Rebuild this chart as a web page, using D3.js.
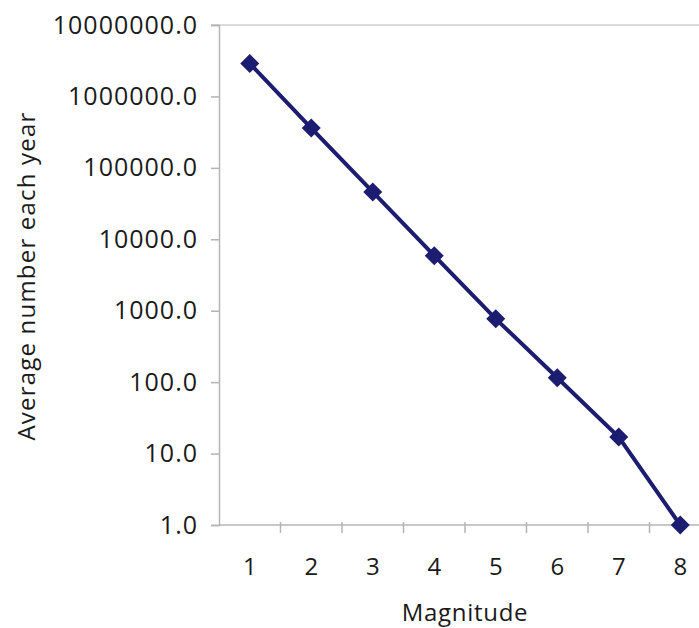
<!DOCTYPE html>
<html>
<head>
<meta charset="utf-8">
<script src="https://cdn.jsdelivr.net/npm/d3@7"></script>
<style>
  body { margin: 0; background: #fff; }
  svg text { font-family: "Open Sans", "Noto Sans", sans-serif; fill: #1a1a1a; }
</style>
</head>
<body>
<svg id="chart"></svg>
<script>
// magnitude classes and average yearly counts
const magnitudes = [1, 2, 3, 4, 5, 6, 7, 8];
const counts = [2900000, 360000, 46000, 5900, 770, 115, 17, 1];
const yTicks = [1, 10, 100, 1000, 10000, 100000, 1000000, 10000000];

const width = 699, height = 628;
const margin = { top: 25, left: 219, bottom: 103 };
const bandW = 61.5;
const plotRight = margin.left + bandW * magnitudes.length;

const svg = d3.select("#chart")
    .attr("width", width)
    .attr("height", height);

const x = d3.scaleBand()
    .domain(magnitudes)
    .range([margin.left, plotRight]);

const y = d3.scaleLog()
    .domain([1, 10000000])
    .range([height - margin.bottom, margin.top]);

const axisColor = "#b4b4b4";

// top border line at the max value
svg.append("line")
    .attr("x1", margin.left - 8).attr("x2", width)
    .attr("y1", y(10000000)).attr("y2", y(10000000))
    .attr("stroke", "#cfcfcf").attr("stroke-width", 1.5);

// y axis
const yAxis = svg.append("g")
    .attr("transform", `translate(${margin.left},0)`)
    .call(d3.axisLeft(y).tickValues(yTicks).tickSize(8).tickPadding(13)
        .tickFormat(d3.format(".1f")));
yAxis.select(".domain").attr("stroke", axisColor).attr("stroke-width", 1.5);
yAxis.selectAll(".tick line").attr("stroke", axisColor).attr("stroke-width", 1.5);
yAxis.selectAll(".tick text")
    .style("font-size", "25px").style("letter-spacing", "1px");

// x axis, ticks between the categories
const xAxisG = svg.append("g")
    .attr("transform", `translate(0,${y(1)})`);
xAxisG.append("line")
    .attr("x1", margin.left).attr("x2", plotRight)
    .attr("stroke", axisColor).attr("stroke-width", 1.5);
xAxisG.selectAll(".sep")
    .data(magnitudes)
    .join("line")
    .attr("class", "sep")
    .attr("x1", d => x(d) + x.bandwidth()).attr("x2", d => x(d) + x.bandwidth())
    .attr("y1", -3).attr("y2", 8)
    .attr("stroke", axisColor).attr("stroke-width", 1.5);
xAxisG.selectAll(".lbl")
    .data(magnitudes)
    .join("text")
    .attr("class", "lbl")
    .attr("x", d => x(d) + x.bandwidth() / 2)
    .attr("y", 50)
    .attr("text-anchor", "middle")
    .style("font-size", "24px")
    .text(d => d);

// axis titles
svg.append("text")
    .attr("x", 465).attr("y", 621)
    .attr("text-anchor", "middle")
    .style("font-size", "24px")
    .style("letter-spacing", "0.7px")
    .text("Magnitude");

svg.append("text")
    .attr("transform", "translate(35,276) rotate(-90)")
    .attr("text-anchor", "middle")
    .style("font-size", "24px")
    .style("letter-spacing", "1.2px")
    .text("Average number each year");

// series
const navy = "#1c1c70";
const line = d3.line()
    .x((d, i) => x(magnitudes[i]) + x.bandwidth() / 2)
    .y(d => y(d));

svg.append("path")
    .datum(counts)
    .attr("fill", "none")
    .attr("stroke", navy)
    .attr("stroke-width", 4)
    .attr("d", line);

svg.selectAll(".pt")
    .data(counts)
    .join("path")
    .attr("class", "pt")
    .attr("transform", (d, i) => `translate(${x(magnitudes[i]) + x.bandwidth() / 2},${y(d)})`)
    .attr("d", d3.symbol(d3.symbolDiamond2, 230))
    .attr("fill", navy);
</script>
</body>
</html>
